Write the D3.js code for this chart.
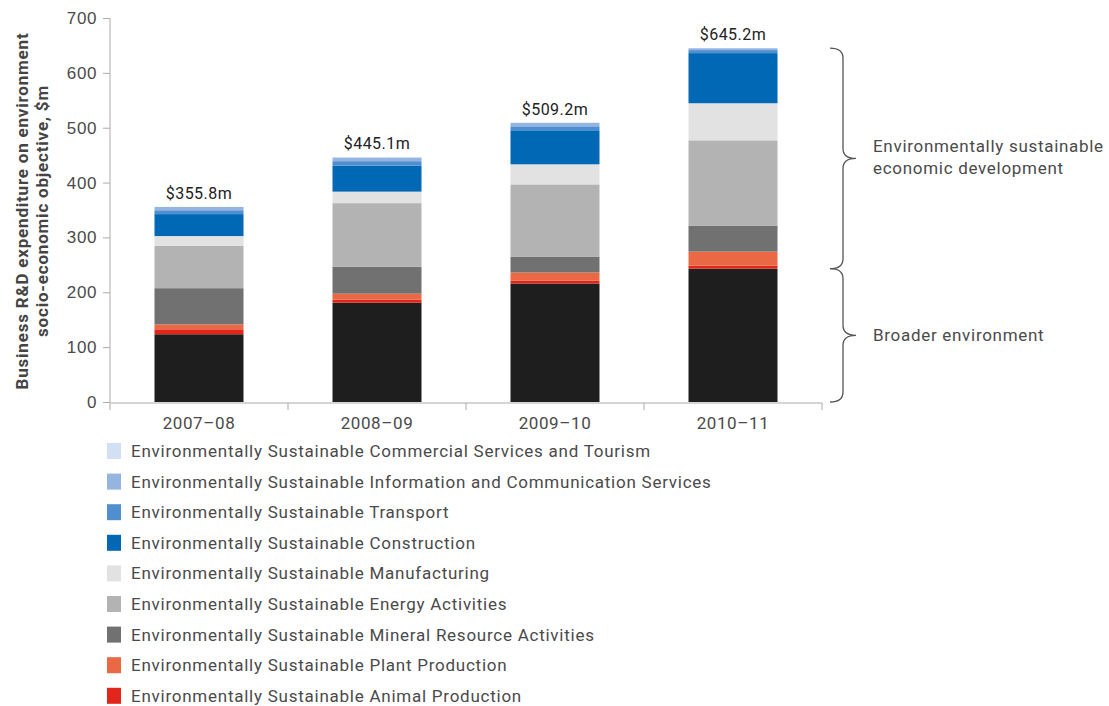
<!DOCTYPE html>
<html>
<head>
<meta charset="utf-8">
<script src="https://cdn.jsdelivr.net/npm/d3@7"></script>
<style>
  body { margin: 0; background: #fff; }
  svg { font-family: Roboto, "Noto Sans", sans-serif; }
  .eje path, .eje line { stroke: #aaa; }
  .eje text { fill: #4a4a4a; font-size: 17px; letter-spacing: 0.6px; }
</style>
</head>
<body>
<div id="chart"></div>
<script>
// Años
var years = ["2007–08", "2008–09", "2009–10", "2010–11"];
var totals = ["$355.8m", "$445.1m", "$509.2m", "$645.2m"];

// Series de abajo hacia arriba
var seriesNames = [
  "Broader environment",
  "Environmentally Sustainable Animal Production",
  "Environmentally Sustainable Plant Production",
  "Environmentally Sustainable Mineral Resource Activities",
  "Environmentally Sustainable Energy Activities",
  "Environmentally Sustainable Manufacturing",
  "Environmentally Sustainable Construction",
  "Environmentally Sustainable Transport",
  "Environmentally Sustainable Information and Communication Services",
  "Environmentally Sustainable Commercial Services and Tourism"
];
var seriesColors = ["#1e1e1e", "#e2261b", "#eb6844", "#717171", "#b3b3b3",
  "#e2e2e2", "#0068b4", "#4f8fd0", "#95b4e0", "#d3dff2"];

var broader      = [123.5, 181.0, 216.0, 243.0];
var animal       = [9.0, 5.5, 5.5, 5.5];
var plant        = [9.0, 11.0, 14.6, 25.6];
var mineral      = [66.0, 49.0, 29.0, 47.5];
var energy       = [77.0, 116.0, 131.6, 155.4];
var manufacturing= [18.0, 21.0, 36.6, 67.6];
var construction = [40.0, 47.5, 62.0, 91.4];
var transport    = [7.0, 8.0, 7.3, 5.5];
var infoComm     = [6.0, 6.6, 6.3, 3.4];
var commercial   = [0.3, 0.5, 0.3, 0.3];

var yTicks = [0, 100, 200, 300, 400, 500, 600, 700];

var seriesValues = [broader, animal, plant, mineral, energy, manufacturing,
  construction, transport, infoComm, commercial];

var w = 1109, h = 706;
var margin = { top: 18, right: 287, bottom: 304, left: 110 };

var svg = d3.select("#chart").append("svg")
  .attr("width", w).attr("height", h);

var table = years.map(function (y, i) {
  var row = { year: y };
  seriesNames.forEach(function (s, k) { row[s] = seriesValues[k][i]; });
  return row;
});

var stack = d3.stack().keys(seriesNames)(table);

var xScale = d3.scaleBand().domain(years)
  .range([margin.left, w - margin.right])
  .paddingInner(0.5).paddingOuter(0.25);

var yScale = d3.scaleLinear().domain([0, 700])
  .range([h - margin.bottom, margin.top]);

// Ejes
var yAxis = d3.axisLeft(yScale).tickValues(yTicks).tickSize(7).tickPadding(6);
svg.append("g").attr("class", "eje")
  .attr("transform", "translate(" + margin.left + ",0)")
  .call(yAxis)
  .call(g => g.select(".domain").attr("d", "M0," + yScale(700) + "V" + yScale(0)));

// Barras
var groups = svg.selectAll("g.serie").data(stack).enter()
  .append("g").attr("class", "serie")
  .attr("fill", (d, i) => seriesColors[i]);

groups.selectAll("rect").data(d => d).enter().append("rect")
  .attr("x", d => xScale(d.data.year))
  .attr("width", xScale.bandwidth())
  .attr("y", d => yScale(d[1]))
  .attr("height", d => yScale(d[0]) - yScale(d[1]));

// Eje X (con ticks entre categorías)
var xAxisG = svg.append("g").attr("class", "eje")
  .attr("transform", "translate(0," + (yScale(0) + 1) + ")");
xAxisG.append("line")
  .attr("x1", margin.left).attr("x2", w - margin.right)
  .attr("stroke", "#aaa");
var step = xScale.step();
var bounds = d3.range(years.length + 1).map(i => margin.left + i * step);
xAxisG.selectAll("line.tk").data(bounds).enter().append("line")
  .attr("class", "tk")
  .attr("x1", d => d).attr("x2", d => d)
  .attr("y1", 0).attr("y2", 7).attr("stroke", "#aaa");
xAxisG.selectAll("text").data(years).enter().append("text")
  .attr("x", d => xScale(d) + xScale.bandwidth() / 2)
  .attr("y", 26)
  .style("text-anchor", "middle")
  .text(d => d);

// Totales
var tops = stack[stack.length - 1];
svg.selectAll("text.total").data(tops).enter().append("text")
  .attr("class", "total")
  .attr("x", d => xScale(d.data.year) + xScale.bandwidth() / 2)
  .attr("y", d => yScale(d[1]) - 8)
  .style("text-anchor", "middle")
  .style("font-size", "16px")
  .style("letter-spacing", "0.5px")
  .attr("fill", "#222")
  .text((d, i) => totals[i]);

// Título eje Y
var yl = svg.append("text")
  .attr("transform", "translate(28," + ((margin.top + yScale(0)) / 2 + 1) + ") rotate(-90)")
  .style("text-anchor", "middle")
  .style("font-weight", "bold")
  .style("font-size", "17px")
  .style("letter-spacing", "0.8px")
  .attr("fill", "#444");
yl.append("tspan").attr("x", 0).attr("dy", 0).text("Business R&D expenditure on environment");
yl.append("tspan").attr("x", 0).attr("dy", 20).text("socio-economic objective, $m");

// Llaves
function brace(x, y1, y2) {
  var ym = (y1 + y2) / 2, r = 10;
  return "M" + (x - 13) + "," + y1 +
    " Q" + x + "," + y1 + " " + x + "," + (y1 + r) +
    " V" + (ym - r) +
    " Q" + x + "," + ym + " " + (x + 13) + "," + ym +
    " Q" + x + "," + ym + " " + x + "," + (ym + r) +
    " V" + (y2 - r) +
    " Q" + x + "," + y2 + " " + (x - 13) + "," + y2;
}
var last = stack[0][3];
var braceX = 843;
svg.append("path").attr("d", brace(braceX, yScale(tops[3][1]), yScale(last[1])))
  .attr("fill", "none").attr("stroke", "#555").attr("stroke-width", 1.3);
svg.append("path").attr("d", brace(braceX, yScale(last[1]), yScale(0)))
  .attr("fill", "none").attr("stroke", "#555").attr("stroke-width", 1.3);

var tEsed = svg.append("text")
  .attr("x", 873).attr("y", (yScale(tops[3][1]) + yScale(last[1])) / 2 - 6)
  .style("font-size", "17px").style("letter-spacing", "0.7px")
  .attr("fill", "#4a4a4a");
tEsed.append("tspan").attr("x", 873).text("Environmentally sustainable");
tEsed.append("tspan").attr("x", 873).attr("dy", 22).text("economic development");

svg.append("text")
  .attr("x", 873).attr("y", (yScale(last[1]) + yScale(0)) / 2 + 6)
  .style("font-size", "17px").style("letter-spacing", "0.7px")
  .attr("fill", "#4a4a4a")
  .text("Broader environment");

// Leyenda
var legendNames = seriesNames.slice(1).reverse();
var legendColors = seriesColors.slice(1).reverse();
var legend = svg.selectAll("g.leg").data(legendNames).enter()
  .append("g").attr("class", "leg")
  .attr("transform", (d, i) => "translate(107," + (443 + i * 30.6) + ")");
legend.append("rect").attr("width", 14).attr("height", 16)
  .attr("fill", (d, i) => legendColors[i]);
legend.append("text").attr("x", 24).attr("y", 14)
  .style("font-size", "17px").style("letter-spacing", "0.75px")
  .attr("fill", "#4a4a4a")
  .text(d => d);
</script>
</body>
</html>
